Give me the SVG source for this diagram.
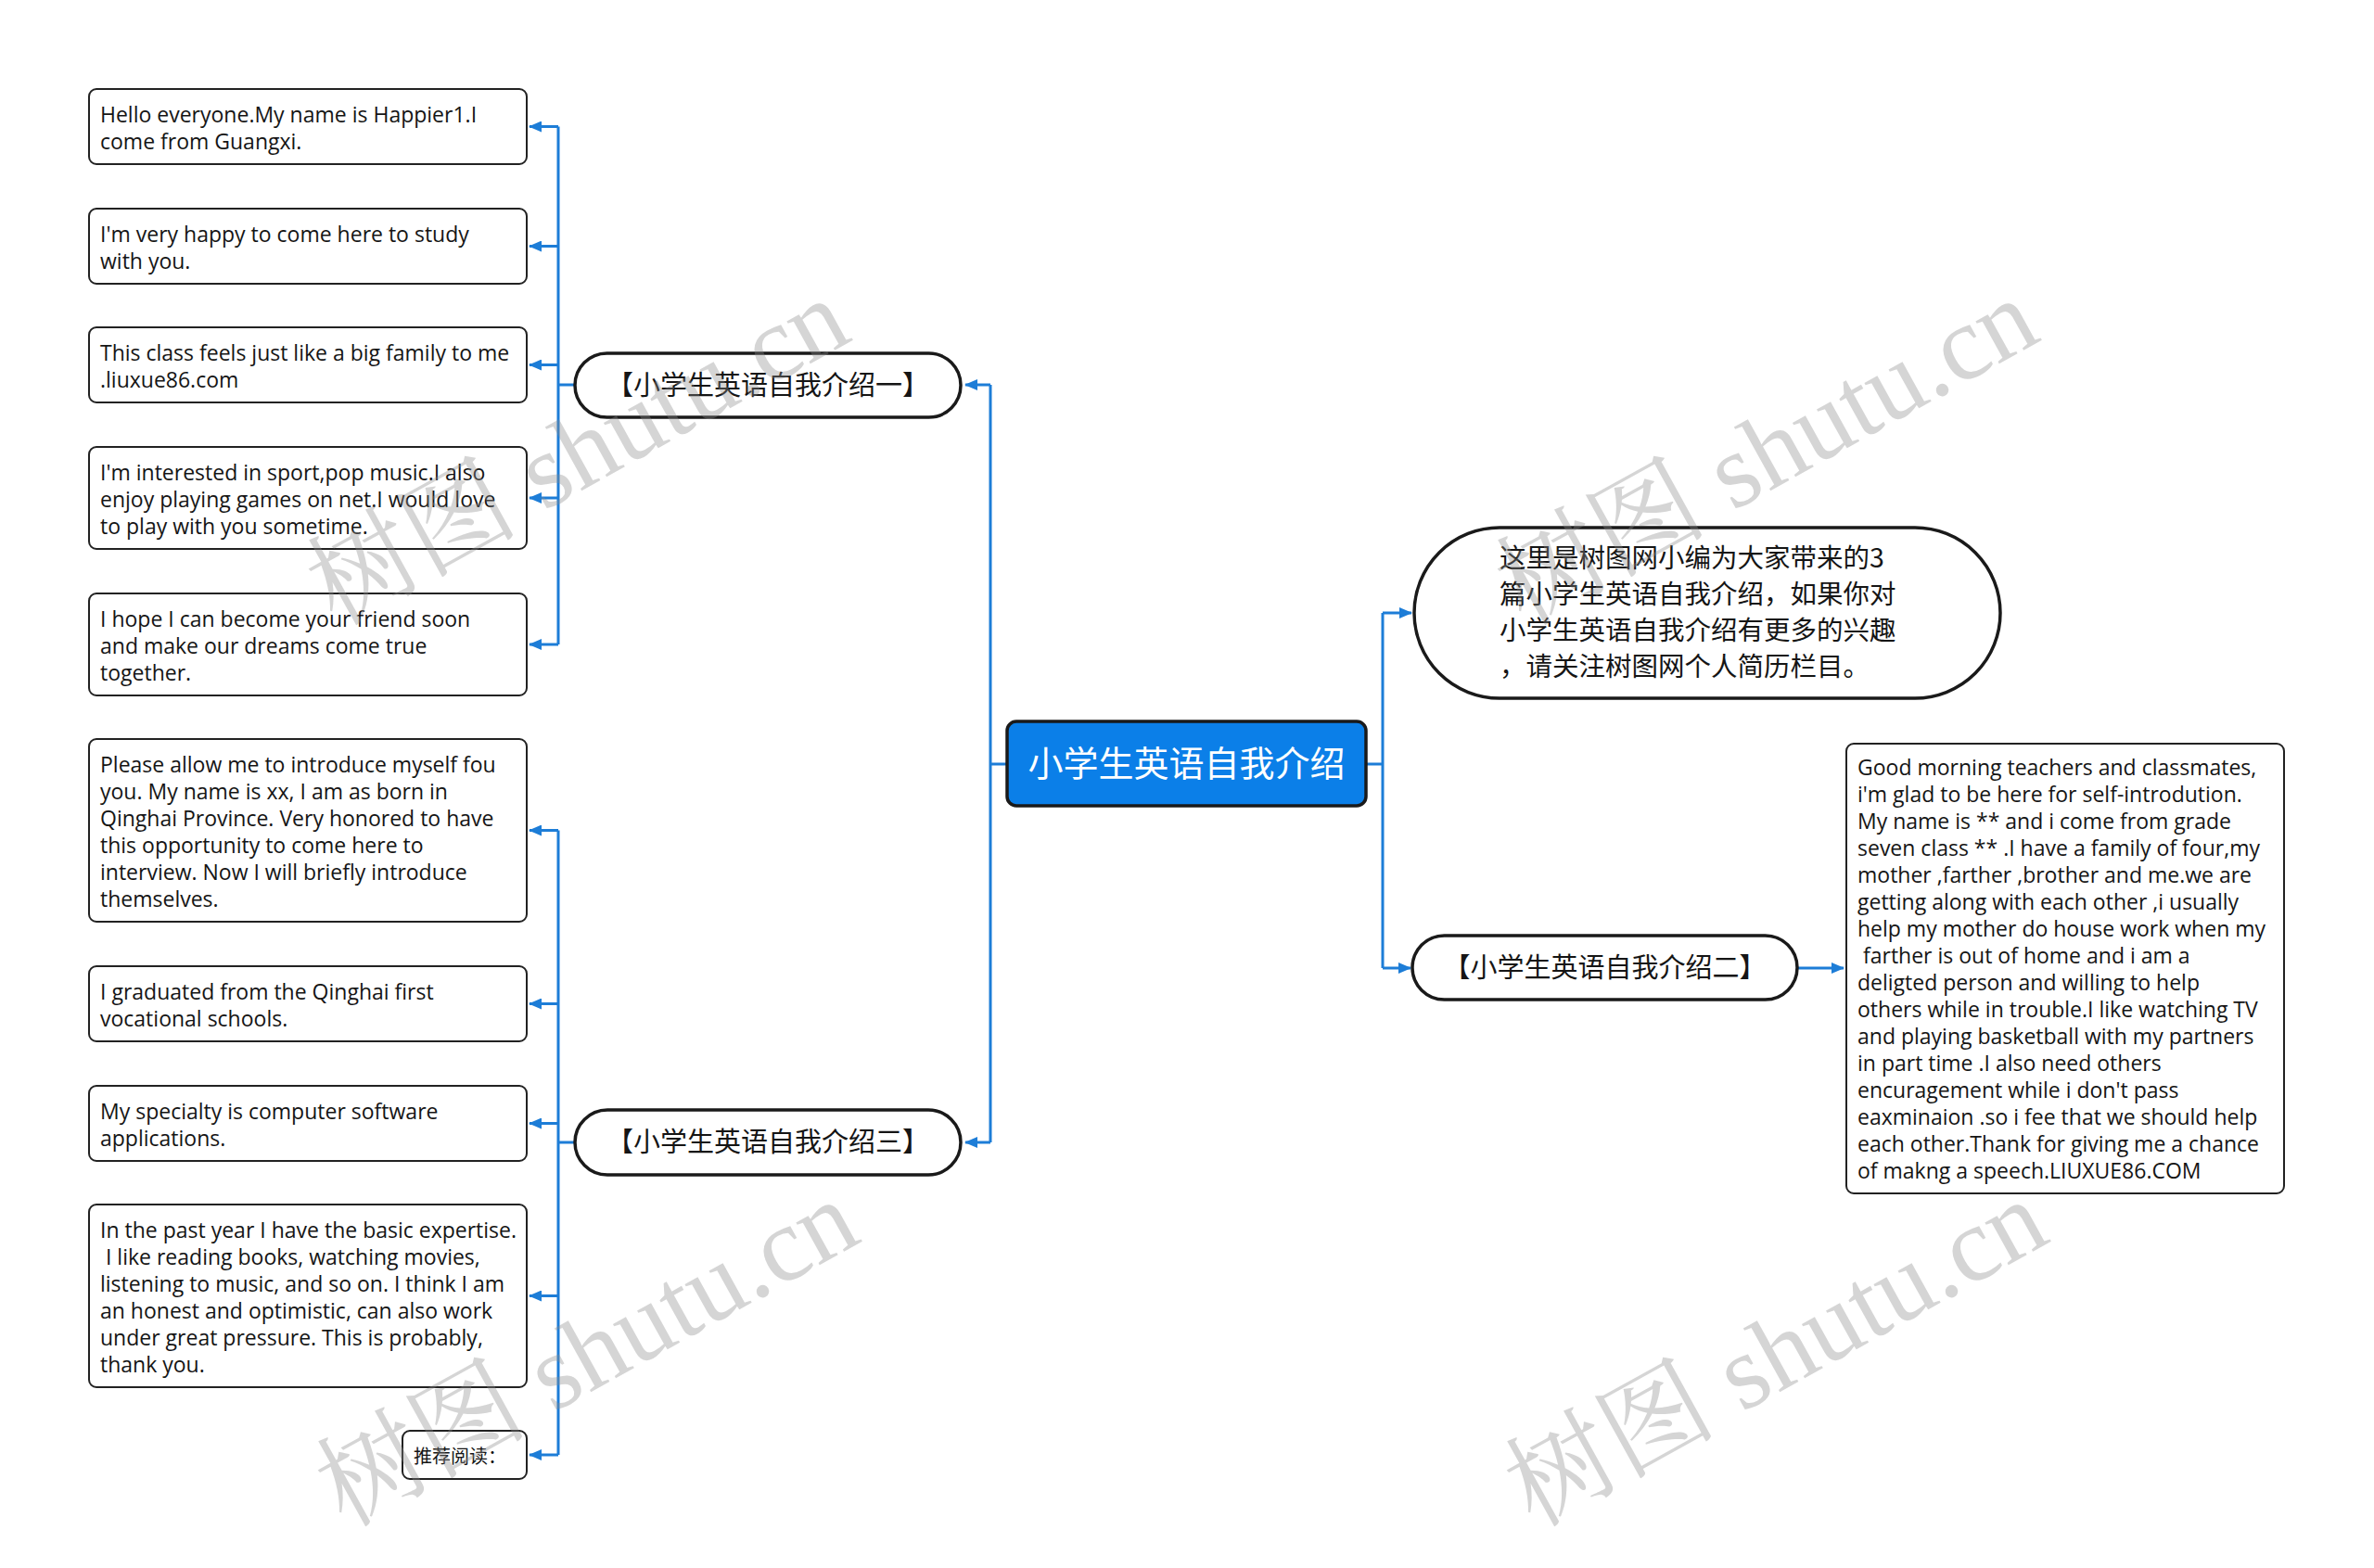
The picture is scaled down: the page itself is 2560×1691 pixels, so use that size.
<svg xmlns="http://www.w3.org/2000/svg" width="2560" height="1691" viewBox="0 0 2560 1691">
<style>
.bg{fill:#ffffff}
.box{fill:#ffffff;stroke:#222222;stroke-width:2}
.pill{fill:#ffffff;stroke:#1a1a1a;stroke-width:3.5}
.t{font-family:"Open Sans","Noto Sans",sans-serif;font-size:23px;fill:#151515}
.cjk{font-family:"Noto Sans CJK SC","Noto Sans",sans-serif;fill:#151515}
.conn{stroke:#1D7DD7;stroke-width:3;fill:none}
.wm{font-family:"Liberation Serif","Noto Serif CJK SC","Noto Sans CJK SC",serif;font-size:114px;fill:#8a8a8a;fill-opacity:0.36}
</style>
<defs>
<marker id="arr" markerUnits="userSpaceOnUse" markerWidth="14" markerHeight="12" refX="13" refY="6" orient="auto">
<path d="M0,0 L14,6 L0,12 Z" fill="#1D7DD7"/>
</marker>
</defs>
<rect class="bg" x="0" y="0" width="2560" height="1691"/>

<g id="connectors">
<path class="conn" d="M1086,824 H1068 M1068,415 V1232"/>
<path class="conn" d="M1068,415 H1041" marker-end="url(#arr)"/>
<path class="conn" d="M1068,1232 H1041" marker-end="url(#arr)"/>
<path class="conn" d="M1473,824 H1491 M1491,661 V1044"/>
<path class="conn" d="M1491,661 H1522" marker-end="url(#arr)"/>
<path class="conn" d="M1491,1044 H1521" marker-end="url(#arr)"/>
<path class="conn" d="M1938,1044 H1988" marker-end="url(#arr)"/>
<path class="conn" d="M620,415 H602 M602,136.5 V695"/>
<path class="conn" d="M602,136.5 H571" marker-end="url(#arr)"/>
<path class="conn" d="M602,265.5 H571" marker-end="url(#arr)"/>
<path class="conn" d="M602,393.5 H571" marker-end="url(#arr)"/>
<path class="conn" d="M602,537 H571" marker-end="url(#arr)"/>
<path class="conn" d="M602,695 H571" marker-end="url(#arr)"/>
<path class="conn" d="M620,1232 H602 M602,895.5 V1569"/>
<path class="conn" d="M602,895.5 H571" marker-end="url(#arr)"/>
<path class="conn" d="M602,1082.5 H571" marker-end="url(#arr)"/>
<path class="conn" d="M602,1211.5 H571" marker-end="url(#arr)"/>
<path class="conn" d="M602,1397.5 H571" marker-end="url(#arr)"/>
<path class="conn" d="M602,1569 H571" marker-end="url(#arr)"/>
</g>

<g id="root">
<rect x="1086" y="778" width="387" height="91" rx="10" fill="#0B7FE8" stroke="#1a1a1a" stroke-width="3.5"/>
<text class="cjk" x="1279.5" y="837" font-size="38" text-anchor="middle" style="fill:#ffffff">小学生英语自我介绍</text>
</g>

<g id="intro">
<rect class="pill" x="1525" y="569" width="632" height="184" rx="92"/>
<text class="cjk" font-size="28.5"><tspan x="1617" y="612">这里是树图网小编为大家带来的3</tspan><tspan x="1617" y="651">篇小学生英语自我介绍，如果你对</tspan><tspan x="1617" y="690">小学生英语自我介绍有更多的兴趣</tspan><tspan x="1617" y="729">，请关注树图网个人简历栏目。</tspan></text>
</g>

<g id="topic1">
<rect class="pill" x="620" y="381" width="416" height="69" rx="34.5"/>
<text class="cjk" x="828" y="426" font-size="29" text-anchor="middle">【小学生英语自我介绍一】</text>
</g>

<g id="topic2">
<rect class="pill" x="1523" y="1009" width="415" height="69" rx="34.5"/>
<text class="cjk" x="1730.5" y="1054" font-size="29" text-anchor="middle">【小学生英语自我介绍二】</text>
</g>

<g id="topic3">
<rect class="pill" x="620" y="1197" width="416" height="70" rx="35"/>
<text class="cjk" x="828" y="1242" font-size="29" text-anchor="middle">【小学生英语自我介绍三】</text>
</g>

<g id="t2-text">
<rect class="box" x="1991" y="802" width="472" height="485" rx="8"/>
<text class="t"><tspan x="2003" y="836">Good morning teachers and classmates,</tspan><tspan x="2003" y="865">i'm glad to be here for self-introdution.</tspan><tspan x="2003" y="894">My name is ** and i come from grade</tspan><tspan x="2003" y="923">seven class ** .I have a family of four,my</tspan><tspan x="2003" y="952">mother ,farther ,brother and me.we are</tspan><tspan x="2003" y="981">getting along with each other ,i usually</tspan><tspan x="2003" y="1010">help my mother do house work when my</tspan><tspan x="2003" y="1039">&#160;farther is out of home and i am a</tspan><tspan x="2003" y="1068">deligted person and willing to help</tspan><tspan x="2003" y="1097">others while in trouble.I like watching TV</tspan><tspan x="2003" y="1126">and playing basketball with my partners</tspan><tspan x="2003" y="1155">in part time .I also need others</tspan><tspan x="2003" y="1184">encuragement while i don't pass</tspan><tspan x="2003" y="1213">eaxminaion .so i fee that we should help</tspan><tspan x="2003" y="1242">each other.Thank for giving me a chance</tspan><tspan x="2003" y="1271">of makng a speech.LIUXUE86.COM</tspan></text>
</g>

<g id="t1-a">
<rect class="box" x="96" y="96" width="472" height="81" rx="8"/>
<text class="t"><tspan x="108" y="132">Hello everyone.My name is Happier1.I</tspan><tspan x="108" y="161">come from Guangxi.</tspan></text>
</g>
<g id="t1-b">
<rect class="box" x="96" y="225" width="472" height="81" rx="8"/>
<text class="t"><tspan x="108" y="261">I'm very happy to come here to study</tspan><tspan x="108" y="290">with you.</tspan></text>
</g>
<g id="t1-c">
<rect class="box" x="96" y="353" width="472" height="81" rx="8"/>
<text class="t"><tspan x="108" y="389">This class feels just like a big family to me</tspan><tspan x="108" y="418">.liuxue86.com</tspan></text>
</g>
<g id="t1-d">
<rect class="box" x="96" y="482" width="472" height="110" rx="8"/>
<text class="t"><tspan x="108" y="518">I'm interested in sport,pop music.I also</tspan><tspan x="108" y="547">enjoy playing games on net.I would love</tspan><tspan x="108" y="576">to play with you sometime.</tspan></text>
</g>
<g id="t1-e">
<rect class="box" x="96" y="640" width="472" height="110" rx="8"/>
<text class="t"><tspan x="108" y="676">I hope I can become your friend soon</tspan><tspan x="108" y="705">and make our dreams come true</tspan><tspan x="108" y="734">together.</tspan></text>
</g>

<g id="t3-a">
<rect class="box" x="96" y="797" width="472" height="197" rx="8"/>
<text class="t"><tspan x="108" y="833">Please allow me to introduce myself fou</tspan><tspan x="108" y="862">you. My name is xx, I am as born in</tspan><tspan x="108" y="891">Qinghai Province. Very honored to have</tspan><tspan x="108" y="920">this opportunity to come here to</tspan><tspan x="108" y="949">interview. Now I will briefly introduce</tspan><tspan x="108" y="978">themselves.</tspan></text>
</g>
<g id="t3-b">
<rect class="box" x="96" y="1042" width="472" height="81" rx="8"/>
<text class="t"><tspan x="108" y="1078">I graduated from the Qinghai first</tspan><tspan x="108" y="1107">vocational schools.</tspan></text>
</g>
<g id="t3-c">
<rect class="box" x="96" y="1171" width="472" height="81" rx="8"/>
<text class="t"><tspan x="108" y="1207">My specialty is computer software</tspan><tspan x="108" y="1236">applications.</tspan></text>
</g>
<g id="t3-d">
<rect class="box" x="96" y="1299" width="472" height="197" rx="8"/>
<text class="t"><tspan x="108" y="1335">In the past year I have the basic expertise.</tspan><tspan x="108" y="1364">&#160;I like reading books, watching movies,</tspan><tspan x="108" y="1393">listening to music, and so on. I think I am</tspan><tspan x="108" y="1422">an honest and optimistic, can also work</tspan><tspan x="108" y="1451">under great pressure. This is probably,</tspan><tspan x="108" y="1480">thank you.</tspan></text>
</g>
<g id="t3-e">
<rect class="box" x="434" y="1543" width="134" height="52" rx="8"/>
<text class="cjk" x="446" y="1578" font-size="20">推荐阅读：</text>
</g>

<g id="watermarks" class="wm">
<text transform="translate(362,676) rotate(-29)">树图 shutu.cn</text>
<text transform="translate(1644,676) rotate(-29)">树图 shutu.cn</text>
<text transform="translate(372,1648) rotate(-29)">树图 shutu.cn</text>
<text transform="translate(1654,1648) rotate(-29)">树图 shutu.cn</text>
</g>
</svg>
